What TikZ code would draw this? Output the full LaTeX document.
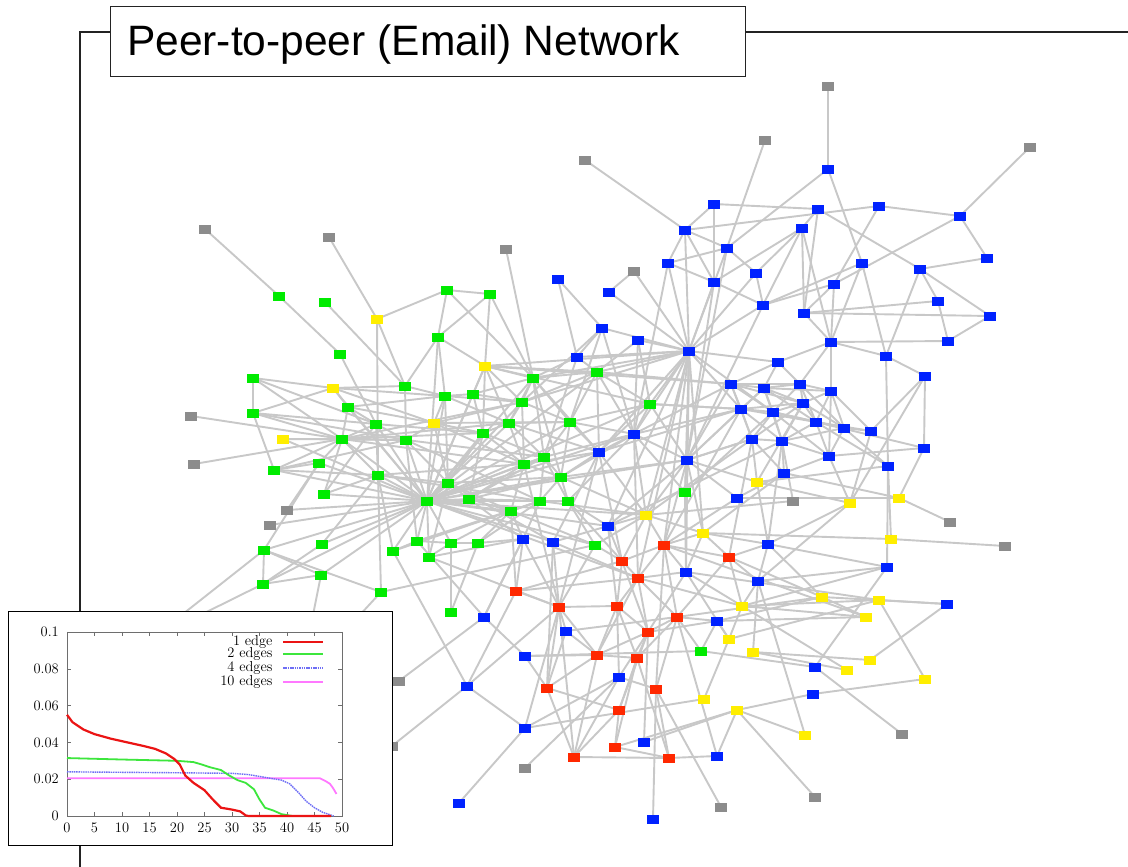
\documentclass[tikz,border=0pt]{standalone}
\usepackage{fontspec}
\newfontfamily\titlefont{Liberation Sans}
\newcommand{\plotfont}{\fontsize{14.5}{14.5}\selectfont}
\usetikzlibrary{backgrounds}
\definecolor{nblue}{RGB}{0,34,255}
\definecolor{ngreen}{RGB}{0,235,0}
\definecolor{nred}{RGB}{255,40,0}
\definecolor{nyellow}{RGB}{255,238,0}
\definecolor{ngray}{RGB}{140,140,140}
\definecolor{edgec}{RGB}{200,200,200}
\definecolor{framec}{RGB}{35,35,35}
\definecolor{pred}{RGB}{235,20,20}
\definecolor{pgreen}{RGB}{60,230,60}
\definecolor{pblue}{RGB}{110,110,245}
\definecolor{pmag}{RGB}{255,120,255}
\definecolor{axisc}{RGB}{110,110,110}
\begin{document}
\begin{tikzpicture}[x=1pt,y=-1pt,
  nd/.style={rectangle, minimum width=12pt, minimum height=9pt, inner sep=0pt, outer sep=0pt},
  kn/.style={nd, fill=ngray},
  gn/.style={nd, fill=ngreen},
  yn/.style={nd, fill=nyellow},
  rn/.style={nd, fill=nred},
  bn/.style={nd, fill=nblue},
  edge/.style={draw=edgec, line width=1.9pt},
  frameline/.style={draw=framec, line width=1.3pt}]
\useasboundingbox (0,0) rectangle (1128,867);

% ---------- nodes ----------
\foreach \n/\x/\y in {k1/828/87, k2/765/140, k3/1030/147, k4/585/160, k5/205/229, k6/329/237, k7/506/249, k8/634/271, k9/191/416, k10/194/464, k11/287/510, k12/270/525, k13/793/501, k14/950/522, k15/1005/546, k16/399/681, k17/392/746, k18/525/768, k19/902/734, k20/721/807, k21/815/797}
  \node[kn] (\n) at (\x,\y) {};
\foreach \n/\x/\y in {g1/279/296, g2/325/302, g3/447/290, g4/490/294, g5/438/337, g6/340/354, g7/253/378, g8/405/386, g9/445/396, g10/473/394, g11/348/407, g12/253/413, g13/376/424, g14/483/433, g15/342/439, g16/406/440, g17/319/463, g18/274/470, g19/378/475, g20/448/483, g21/324/494, g22/427/501, g23/469/499, g24/264/550, g25/322/544, g26/417/541, g27/451/543, g28/478/543, g29/393/551, g30/429/557, g31/263/584, g32/321/575, g33/381/592, g34/451/612, g35/597/372, g36/533/378, g37/522/402, g38/650/404, g39/509/423, g40/570/422, g41/544/457, g42/524/464, g43/561/477, g44/685/492, g45/540/501, g46/568/501, g47/511/511, g48/595/545, g49/701/651}
  \node[gn] (\n) at (\x,\y) {};
\foreach \n/\x/\y in {y1/377/319, y2/333/388, y3/485/366, y4/283/439, y5/434/423, y6/757/482, y7/646/515, y8/703/533, y9/850/503, y10/899/498, y11/891/539, y12/822/597, y13/879/600, y14/742/606, y15/866/617, y16/729/639, y17/753/652, y18/870/660, y19/847/670, y20/925/679, y21/704/699, y22/737/710, y23/805/735}
  \node[yn] (\n) at (\x,\y) {};
\foreach \n/\x/\y in {r1/664/545, r2/729/557, r3/622/561, r4/638/578, r5/516/591, r6/559/607, r7/617/606, r8/677/617, r9/648/632, r10/597/655, r11/637/658, r12/547/688, r13/656/689, r14/619/710, r15/615/747, r16/574/757, r17/669/758}
  \node[rn] (\n) at (\x,\y) {};
\foreach \n/\x/\y in {b1/828/169, b2/714/204, b3/818/209, b4/879/206, b5/960/216, b6/685/230, b7/802/228, b8/727/248, b9/987/258, b10/668/263, b11/862/263, b12/920/269, b13/756/273, b14/558/279, b15/714/282, b16/834/284, b17/609/292, b18/938/301, b19/763/305, b20/804/313, b21/990/316, b22/602/328, b23/638/340, b24/831/342, b25/948/341, b26/689/351, b27/577/357, b28/886/356, b29/778/362, b30/925/376, b31/731/384, b32/764/388, b33/800/384, b34/831/391, b35/803/403, b36/741/409, b37/773/412, b38/816/422, b39/844/428, b40/871/431, b41/634/434, b42/752/439, b43/782/441, b44/924/448, b45/599/452, b46/829/456, b47/687/460, b48/888/466, b49/784/473, b50/737/498, b51/608/526, b52/523/539, b53/553/542, b54/768/544, b55/887/567, b56/686/572, b57/758/581, b58/947/604, b59/484/617, b60/717/621, b61/566/631, b62/525/656, b63/815/667, b64/619/677, b65/467/686, b66/813/694, b67/525/728, b68/644/742, b69/717/756, b70/459/803, b71/653/819}
  \node[bn] (\n) at (\x,\y) {};
\coordinate (h1) at (150,640);
\coordinate (h2) at (300,680);

% ---------- edges ----------
\begin{pgfonlayer}{background}
\fill[white] (0,0) rectangle (1128,867);
\foreach \a/\b in {k5/g1, g1/g6, g6/g13, k6/y1, y1/g3, y1/g19, y1/g8, g3/g4, g3/g5, g3/g36, g4/g5, g4/g36, g5/y3, g5/g8, g2/g8, g7/y2, g7/g15, y2/g12, y2/g8, y2/y5, y2/g11, y2/g22, g12/g15, g12/g13, g12/g18, k9/g15, k10/g15, y4/g15, y4/g16, y4/g22, g18/g17, g18/g19, g18/g22, g17/k11, g17/g15, g21/g22, k11/g22, k12/g22,
 g22/g24, g22/g25, g22/g26, g22/g27, g22/g29, g22/g30, g22/g19, g22/g20, g22/g23, g22/g16, g22/g14, g22/g13, g22/g11, g22/g9, g22/g37, g22/g39, g22/g42, g22/b45, g22/y7, g22/g48, g22/g36, g22/g40, g22/g43, g22/b51, g22/g31, g22/g32, g22/g15, g22/g17, g22/g45, g22/b53,
 g24/g31, g24/g32, g31/g25, g31/g32, g24/g33, g33/g19, g33/g48, g34/g27, g34/g28, g31/h1, g24/h1, g33/h2, g32/h2,
 g8/g9, g8/g16, g9/g10, g9/g20, g10/g14, g10/g36, g5/g9, g11/g15, g11/g13, g13/g16, g13/g19, g16/g20, g14/g20, g14/g23, g14/g39, g14/y5, y5/g9, y5/g16, y5/g20, y5/g37, y5/g42, y5/g40, g20/g23, g23/g42, g23/g41, g23/g45, g23/g47, g19/g20, g26/g27, g27/g28, g29/g26, g30/g27, g28/g47, g28/g45, g26/g16, g29/g19, g30/g20, g28/b52, g15/g14, g15/g16, g15/g19, g15/g13, g7/g12, g18/g15, g21/g15, g21/g19, g25/g19, g24/g17}
  \draw[edge] (\a.center) -- (\b.center);
\foreach \a/\b in {g22/b41, g22/g38, g22/b47, g22/r4, g22/g35, g22/g41, g22/g46, g22/g47, g22/y3, g22/g10, g22/g5, g15/g39, g15/g37, g15/g42, g16/g41, g16/g45, g13/g14, g11/y5, g11/g9, y2/g9, g19/g42, g19/g45, g20/g43, g20/g47, g9/g39, g9/g37, g10/g37, g10/y3, g14/g42, g14/g41, g23/g43, g23/b52, g26/g45, g27/g47, g29/g45, g30/b52, g20/b53, y3/g35, y3/g38, g37/g35, g39/g40, g39/b45, g42/b45, g43/y7, g43/b47, g41/b41, g46/b41, g47/r5, g36/g40, g35/b41, g40/b41, g38/b45, b45/y7, b45/r3, b41/g44, b47/b51, b47/y8, g38/b36, g35/b31, g36/b45, b22/g40, b27/g41, b23/g35, b27/g36, g42/r6, b26/r1, b26/r4, b26/b56, b26/g44, b26/b41, b15/b47, b10/b41, b8/b47, b19/b47, b36/r1, b42/r2, b43/b54, b49/y8, b46/y9, b35/y6, b38/b48, y9/b57, y10/b49, b58/y12, y13/b56, y15/r1, y12/r8, b55/y14, y13/y16, b57/b55, g12/g16, g7/g13, g18/g16, g21/g13}
  \draw[edge] (\a.center) -- (\b.center);
\foreach \a/\b in {g35/b26, g35/b27, g35/g36, g35/g40, g35/b45, g35/g38, g36/g37, g36/g39, g36/b26, g36/g41, g36/g43, g36/y3, g37/g39, g37/g42, g37/g40, g37/b22, y3/g39, y3/g37, y3/g14, g38/b41, g38/b47, g38/b23, g38/g40, g39/g42, g39/g41, g40/g41, g40/g43, g40/b45, g41/g42, g41/g43, g41/g45, g41/g46, g42/g47, g42/g43, g43/g46, g43/g45, g43/b41, g45/g46, g45/g47, g45/b52, g45/y7, g46/g48, g46/r3, g46/b51, g47/b52, g47/g48, b45/g43, b45/b53, b45/r6, b45/b41, b41/b47, b41/r4, b41/y7, b47/b26, b47/y7, b47/b50, b47/b42, b47/g44, b47/r1, g44/b56, y7/r1, y7/r3, y7/b51, y7/g48, b51/r3, b51/b53, b51/r7, b52/b59, b52/r6, b53/r6, b53/r12, b53/r4, g48/r3, g48/r6, k7/g36, g4/y3}
  \draw[edge] (\a.center) -- (\b.center);
\foreach \a/\b in {k1/b1, b1/b8, b1/b11, k2/b8, k3/b5, b5/b9, b5/b4, b5/b16, b4/b16, b4/b6, b2/b3, b3/b12, b3/b20, b7/b20, b7/b19, b7/b24, b7/b15, b11/b19, b11/b28, b11/b24, b12/b9, b12/b18, b12/b21, b12/b28, b18/b25, b21/b25, b18/b20, b20/b21, b16/b19, b16/b20, b20/b24, b24/b25, b24/b28, b28/b30, b28/b48, b30/b44, b30/y9, b30/b40, k4/b6, b6/b2, b6/b8, b6/b10, b6/b26, b6/b15, b2/b15, b8/b10, b8/b13, b10/b15, b15/b19, b15/b26, b13/b19, b13/b26, k8/b17, k8/b26, b17/b26, b14/b22, b14/b27, b22/b27, b22/b41, b23/b41, b27/b26, b26/g37, b26/y3, b26/y7, b26/b51, b26/g38, b26/b45, b26/b19, b26/b8, b26/b10, b26/b23, b26/b29, b26/b22, b26/y8, b26/b36, b3/b7, b7/b13, b16/b24}
  \draw[edge] (\a.center) -- (\b.center);
\foreach \a/\b in {b29/b31, b29/b32, b29/b33, b31/b32, b31/b36, b31/b37, b31/b42, b31/b35, b31/b33, b32/b33, b32/b34, b32/b35, b32/b36, b32/b37, b32/b38, b32/b43, b33/b34, b33/b35, b33/b38, b33/b39, b33/b37, b33/b24, b34/b35, b34/b39, b34/b40, b34/b38, b34/b46, b34/b24, b35/b36, b35/b37, b35/b38, b35/b39, b35/b43, b35/b42, b36/b37, b36/b42, b36/b43, b36/b38, b37/b38, b37/b42, b37/b43, b37/b46, b37/b39, b38/b39, b38/b46, b38/b43, b38/b40, b39/b40, b39/b46, b39/b43, b42/b43, b42/b49, b43/b49, b46/b49, b43/b46, b40/y9, b44/b46, b44/b38, b48/y11, b48/y6, b48/b39, b36/g38, b42/b47, b31/b41, b42/y7, b43/b51, b36/b47, b37/g44, b49/b50, y3/b31, b31/b47, b32/b47, b36/b41, b29/b24, b36/b45, b37/b26}
  \draw[edge] (\a.center) -- (\b.center);
\foreach \a/\b in {k13/b43, k13/y7, y9/b54, y10/k14, y10/b50, y10/b44, y11/k15, y11/y8, y6/b54, y6/b42, y6/b47, b50/r1, y8/y7, y8/r1, y8/b56, y8/r2, y8/b54, b54/b55, b54/r2, b54/b57, b55/b63, b55/b48, b57/y14, b57/y17, b57/y23, r2/y14, r2/r8, y13/b58, y13/y20, y13/y14, y12/y15, y12/b60, y12/r2, y15/y14, y15/b60, b58/y18, y17/y18, y17/y19, y20/b66, b66/y22, y22/b69, y22/k21, y22/y23, y22/r15, b63/k19, b63/g49, y19/y14, k20/r13, y16/y21, y16/b60, y16/y14, b60/r8, b60/g49, b60/r9, y21/b67, b68/y22, b68/r9, b56/r9, b56/y14, b56/y16, g49/r8, g49/b62, y9/y6, r2/b57, y14/r4, y12/b54}
  \draw[edge] (\a.center) -- (\b.center);
\foreach \a/\b in {r1/r13, r1/r3, r1/r4, r1/r8, r1/b56, r1/r2, r3/r4, r3/r7, r3/r9, r3/r5, r4/r7, r4/r8, r4/r9, r4/r10, r4/b56, r5/r6, r6/r7, r6/r10, r6/r12, r6/r16, r6/b61, r7/r9, r7/r10, r7/r11, r7/b64, r8/r9, r8/r13, r8/r11, r9/r11, r9/r10, r9/r14, r9/b64, r10/r11, r10/r16, r10/b62, r11/r15, r11/r17, r11/r14, r12/r16, r12/r14, r12/b61, r13/r17, r13/b71, r14/r15, r14/r16, r16/r17, b61/r10, b61/r8, b62/b59, b59/k16, b59/b52, b65/g29, b65/k17, b65/b67, b65/r6, b67/b70, b67/r6, k18/b64, b69/r8, b64/r13, b64/b67, g30/r6, g26/b59, r5/b52, r5/b65, r12/r10, r16/b64, r15/r17, r17/b69, b62/r12, r5/r4}
  \draw[edge] (\a.center) -- (\b.center);
\end{pgfonlayer}

% ---------- frame and title ----------
\coordinate (c1) at (80,867);
\coordinate (c2) at (80,32);
\coordinate (c3) at (110,32);
\coordinate (c4) at (745,32);
\coordinate (c5) at (1128,32);
\draw[frameline] (c1) -- (c2) -- (c3);
\draw[frameline] (c4) -- (c5);
\node (tbox) [draw=framec, fill=white, line width=1.3pt, minimum width=635pt, minimum height=70pt, anchor=north west, inner sep=0pt] at (110,6) {};
\node (ttl) [anchor=base west, inner sep=0pt, font=\titlefont\fontsize{42.5}{50}\selectfont] at (127,56) {Peer-to-peer (Email) Network};

% ---------- inset plot ----------
\node (inset) [draw=black, fill=white, line width=1.3pt, minimum width=384pt, minimum height=234pt, anchor=north west, inner sep=0pt] at (8,611) {};
\begin{scope}[shift={(67pt,-816pt)}, x=5.5pt, y=1840pt]
  \draw[axisc, line width=0.6pt] (0,0) rectangle (50,0.1);
  \foreach \t [count=\i] in {0,5,10,15,20,25,30,35,40,45,50} {
    \draw[axisc, line width=0.5pt] (\t,0) -- ++(0pt,4pt);
    \draw[axisc, line width=0.5pt] (\t,0.1) -- ++(0pt,-4pt);
    \node (xl\i) [anchor=north, inner sep=0pt, font=\plotfont] at ([yshift=-7pt]\t,0) {\t};
  }
  \foreach \v [count=\i] in {0,0.02,0.04,0.06,0.08,0.1} {
    \draw[axisc, line width=0.5pt] (0,\v) -- ++(4pt,0pt);
    \draw[axisc, line width=0.5pt] (50,\v) -- ++(-4pt,0pt);
    \node (yl\i) [anchor=east, inner sep=0pt, font=\plotfont] at ([xshift=-8pt]0,\v) {\v};
  }
  \draw[pmag, line width=1.8pt] plot coordinates {(0,0.0205) (46,0.0205) (47,0.019) (47.8,0.0175) (48.3,0.0155) (49,0.012)};
  \draw[pblue, line width=1.4pt, dash pattern=on 1.5pt off 0.8pt] plot coordinates {(0,0.024) (20,0.0235) (30,0.0232) (33,0.0225) (35,0.0215) (37,0.0205) (39,0.0195) (40.5,0.0175) (42,0.013) (43.5,0.008) (45,0.0045) (46.5,0.002) (48.5,0)};
  \draw[pgreen, line width=1.8pt] plot coordinates {(0,0.0315) (10,0.0307) (20,0.030) (23,0.0293) (24.5,0.028) (26,0.0265) (28,0.025) (29.5,0.022) (31,0.0195) (32.5,0.018) (34,0.0145) (35,0.009) (36,0.0045) (37.5,0.003) (39,0.001) (41,0) (48,0)};
  \draw[pred, line width=2.2pt] plot coordinates {(0,0.055) (1,0.051) (2,0.049) (3,0.047) (5,0.0445) (8,0.042) (11,0.040) (14,0.038) (16,0.0365) (18,0.034) (19.5,0.031) (20.5,0.028) (21.5,0.022) (23,0.018) (25,0.014) (26.5,0.009) (28,0.0045) (30,0.0035) (31.5,0.0025) (32.5,0.0003) (33,0) (48,0)};
  \node (lg1) [anchor=east, inner sep=0pt, font=\plotfont] at (37.4,0.0947) {1 edge};
  \node (lg2) [anchor=east, inner sep=0pt, font=\plotfont] at (37.4,0.0880) {2 edges};
  \node (lg3) [anchor=east, inner sep=0pt, font=\plotfont] at (37.4,0.0804) {4 edges};
  \node (lg4) [anchor=east, inner sep=0pt, font=\plotfont] at (37.4,0.0728) {10 edges};
  \draw[pred, line width=2.2pt] (39.3,0.0947) -- (46.5,0.0947);
  \draw[pgreen, line width=1.8pt] (39.3,0.0880) -- (46.5,0.0880);
  \draw[pblue, line width=1.4pt, dash pattern=on 1.5pt off 0.8pt] (39.3,0.0804) -- (46.5,0.0804);
  \draw[pmag, line width=1.8pt] (39.3,0.0728) -- (46.5,0.0728);
\end{scope}
\end{tikzpicture}
\end{document}
